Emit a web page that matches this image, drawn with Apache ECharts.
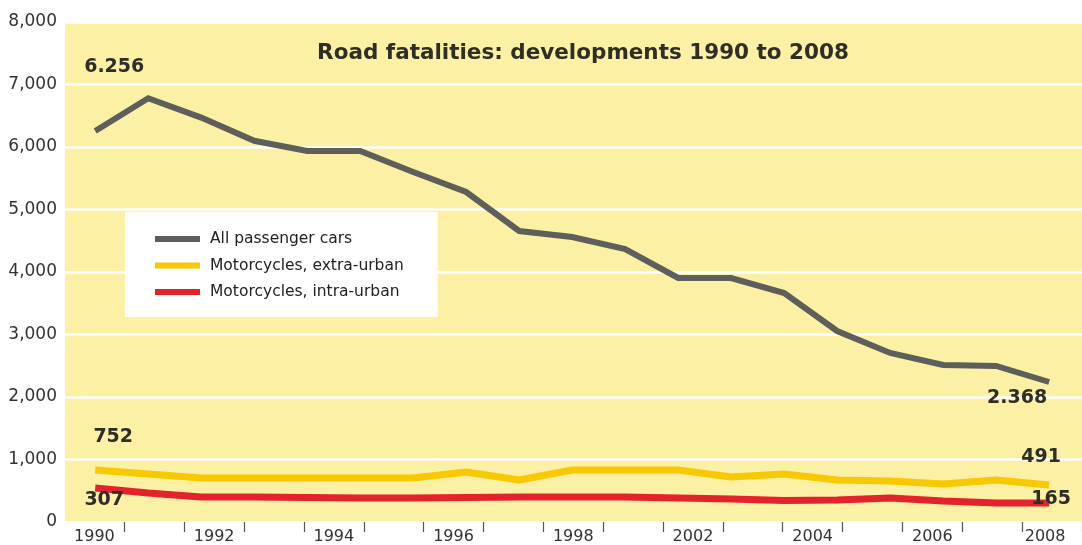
<!DOCTYPE html>
<html><head><meta charset="utf-8">
<script src="https://cdn.jsdelivr.net/npm/echarts@6/dist/echarts.min.js"></script>
<style>html,body{margin:0;padding:0;background:#fff}#c{width:1082px;height:545px}</style>
</head><body><div id="c"></div>
<script>
const years = [1990,1991,1992,1993,1994,1995,1996,1997,1998,1999,2000,2001,2002,2003,2004,2005,2006,2007,2008];
const passengerCars = [6256,6780,6470,6100,5936,5936,5600,5280,4656,4560,4368,3904,3904,3664,3056,2704,2512,2496,2240];
const motoExtraUrban = [832,768,704,704,704,704,704,800,672,832,832,832,720,768,672,656,608,672,592];
const motoIntraUrban = [544,464,400,400,392,384,384,392,400,400,400,384,368,344,352,384,336,304,304];
const seriesNames = ['All passenger cars','Motorcycles, extra-urban','Motorcycles, intra-urban'];
const carsEndLabels = ['6.256','2.368'];
const extraEndLabels = ['752','491'];
const intraEndLabels = ['307','165'];
const xTickLabels = ['1990','','1992','','1994','','1996','','1998','','2002','','2004','','2006','','2008'];
const titleText = 'Road fatalities: developments 1990 to 2008';

const FONT = 'DejaVu Sans';
const labelStyle = {fontFamily: FONT, fontWeight: 'bold', fontSize: 19, color: '#2e2d26', position: 'inside', align: 'center', verticalAlign: 'middle'};

function buildData(vals, labels, offFirst, offLast) {
  return vals.map((v, i) => {
    const item = {value: [years[i], v]};
    if (i === 0) item.label = Object.assign({show: true, formatter: labels[0], offset: offFirst}, labelStyle);
    if (i === vals.length - 1) item.label = Object.assign({show: true, formatter: labels[1], offset: offLast}, labelStyle);
    return item;
  });
}

const chart = echarts.init(document.getElementById('c'), null, {renderer: 'canvas'});
chart.setOption({
  animation: false,
  backgroundColor: '#ffffff',
  title: {
    text: titleText, left: 578, top: 37, textAlign: 'center',
    textStyle: {fontFamily: FONT, fontWeight: 'bold', fontSize: 21.5, color: '#2e2d26'}
  },
  legend: {
    orient: 'vertical', left: 125, top: 212,
    backgroundColor: '#ffffff', padding: [17, 34, 15, 30],
    icon: 'rect', itemWidth: 45, itemHeight: 6, itemGap: 6.5,
    textStyle: {fontFamily: FONT, fontSize: 15.5, color: '#222', lineHeight: 20, padding: [0, 0, 0, 5]},
    data: seriesNames
  },
  grid: [
    {left: 65, right: 0, top: 22, bottom: 23, show: true, backgroundColor: '#FBF0A4', borderWidth: 0},
    {left: 64.5, width: 1028.5, top: 22, bottom: 23, show: false}
  ],
  xAxis: [
    {type: 'value', gridIndex: 0, min: 1989.43, max: 2008.62, show: false},
    {type: 'category', gridIndex: 1, data: xTickLabels.map((t, i) => i === xTickLabels.length - 1 ? '{r|' + t + '}' : t), boundaryGap: true,
      axisLine: {show: false},
      axisTick: {show: true, length: 10, interval: (idx) => idx !== 0, lineStyle: {color: '#555', width: 1.2}},
      axisLabel: {interval: 0, margin: 7, fontFamily: FONT, fontSize: 16, color: '#333',
        rich: {r: {fontFamily: FONT, fontSize: 16, color: '#333', padding: [0, 14, 0, 0]}}}
    }
  ],
  yAxis: [
    {type: 'value', gridIndex: 0, min: 0, max: 8000, interval: 1000,
      axisLine: {show: false}, axisTick: {show: false},
      axisLabel: {margin: 8, fontFamily: FONT, fontSize: 17, color: '#333',
        formatter: v => v.toLocaleString('en-US')},
      splitLine: {show: true, lineStyle: {color: '#ffffff', width: 2.5}}
    },
    {type: 'value', gridIndex: 1, min: 0, max: 8000, show: false}
  ],
  series: [
    {name: seriesNames[0], type: 'line', xAxisIndex: 0, yAxisIndex: 0,
      symbol: 'circle', symbolSize: 0, showSymbol: true, color: '#5e5e5a',
      lineStyle: {width: 6, color: '#5e5e5a', join: 'miter'},
      data: buildData(passengerCars, carsEndLabels, [19, -64], [-32, 16])},
    {name: seriesNames[1], type: 'line', xAxisIndex: 0, yAxisIndex: 0,
      symbol: 'circle', symbolSize: 0, showSymbol: true, color: '#F8C800',
      lineStyle: {width: 7, color: '#F8C800'},
      data: buildData(motoExtraUrban, extraEndLabels, [18, -33], [-8, -28])},
    {name: seriesNames[2], type: 'line', xAxisIndex: 0, yAxisIndex: 0,
      symbol: 'circle', symbolSize: 0, showSymbol: true, color: '#E4222C',
      lineStyle: {width: 7, color: '#E4222C'},
      data: buildData(motoIntraUrban, intraEndLabels, [9, 12], [2, -4])}
  ]
});
</script></body></html>
